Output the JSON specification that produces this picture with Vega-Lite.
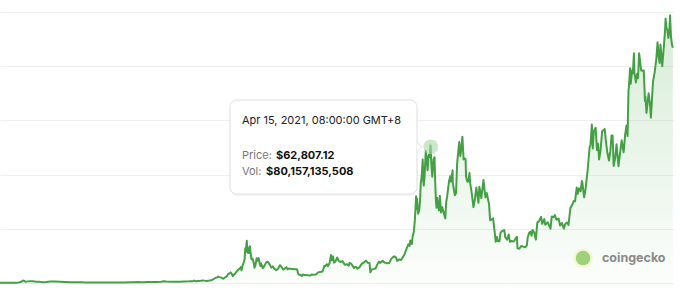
{
  "$schema": "https://vega.github.io/schema/vega-lite/v6.json",
  "width": 673,
  "height": 271,
  "autosize": {"type": "none"},
  "padding": {"left": 0, "top": 12, "right": 7, "bottom": 11},
  "background": "#ffffff",
  "config": {"view": {"stroke": null}},
  "datasets": {
    "btc": [
      {"d":"2013-07-01","p":88},{"d":"2013-07-15","p":98},{"d":"2013-08-01","p":105},{"d":"2013-08-15","p":110},{"d":"2013-09-01","p":140},{"d":"2013-09-15","p":130},{"d":"2013-10-01","p":125},{"d":"2013-10-15","p":150},{"d":"2013-11-01","p":205},{"d":"2013-11-15","p":420},{"d":"2013-11-30","p":1120},{"d":"2013-12-05","p":1050},{"d":"2013-12-18","p":520},{"d":"2013-12-31","p":750},
      {"d":"2014-01-15","p":840},{"d":"2014-02-01","p":830},{"d":"2014-02-25","p":530},{"d":"2014-03-15","p":630},{"d":"2014-04-10","p":360},{"d":"2014-05-01","p":450},{"d":"2014-06-01","p":650},{"d":"2014-07-01","p":640},{"d":"2014-08-01","p":590},{"d":"2014-09-01","p":480},{"d":"2014-10-05","p":320},{"d":"2014-11-01","p":330},{"d":"2014-12-01","p":380},{"d":"2014-12-31","p":320},
      {"d":"2015-01-14","p":175},{"d":"2015-02-01","p":225},{"d":"2015-03-01","p":255},{"d":"2015-04-01","p":245},{"d":"2015-05-01","p":235},{"d":"2015-06-01","p":225},{"d":"2015-07-01","p":260},{"d":"2015-08-01","p":280},{"d":"2015-09-01","p":230},{"d":"2015-10-01","p":238},{"d":"2015-11-04","p":400},{"d":"2015-12-01","p":375},{"d":"2015-12-31","p":430},
      {"d":"2016-01-15","p":390},{"d":"2016-02-01","p":370},{"d":"2016-03-01","p":435},{"d":"2016-04-01","p":415},{"d":"2016-05-01","p":450},{"d":"2016-06-01","p":535},{"d":"2016-06-17","p":760},{"d":"2016-07-01","p":675},{"d":"2016-08-01","p":610},{"d":"2016-09-01","p":570},{"d":"2016-10-01","p":615},{"d":"2016-11-01","p":730},{"d":"2016-12-01","p":750},{"d":"2016-12-20","p":800},{"d":"2016-12-31","p":960},
      {"d":"2017-01-04","p":1150},{"d":"2017-01-12","p":800},{"d":"2017-02-01","p":970},{"d":"2017-02-15","p":1010},{"d":"2017-03-01","p":1190},{"d":"2017-03-10","p":1100},{"d":"2017-03-25","p":930},{"d":"2017-04-15","p":1180},{"d":"2017-05-01","p":1420},{"d":"2017-05-12","p":1750},{"d":"2017-05-25","p":2400},{"d":"2017-06-03","p":2500},{"d":"2017-06-11","p":2950},{"d":"2017-06-20","p":2700},{"d":"2017-07-01","p":2480},{"d":"2017-07-16","p":1930},{"d":"2017-07-25","p":2600},{"d":"2017-08-01","p":2730},{"d":"2017-08-10","p":3400},{"d":"2017-08-17","p":4300},{"d":"2017-08-25","p":4350},{"d":"2017-09-01","p":4900},{"d":"2017-09-08","p":4300},{"d":"2017-09-15","p":3230},{"d":"2017-09-22","p":3700},{"d":"2017-10-01","p":4400},{"d":"2017-10-12","p":5400},{"d":"2017-10-20","p":6000},{"d":"2017-11-01","p":6700},{"d":"2017-11-08","p":7400},{"d":"2017-11-12","p":5900},{"d":"2017-11-20","p":8200},{"d":"2017-11-28","p":9800},{"d":"2017-12-03","p":11200},{"d":"2017-12-07","p":16000},{"d":"2017-12-10","p":14500},{"d":"2017-12-17","p":19500},{"d":"2017-12-22","p":14000},{"d":"2017-12-27","p":16000},{"d":"2017-12-31","p":13800},
      {"d":"2018-01-06","p":17000},{"d":"2018-01-10","p":14500},{"d":"2018-01-17","p":11000},{"d":"2018-01-24","p":11300},{"d":"2018-02-01","p":9200},{"d":"2018-02-06","p":7000},{"d":"2018-02-13","p":8600},{"d":"2018-02-20","p":11400},{"d":"2018-02-27","p":10300},{"d":"2018-03-05","p":11500},{"d":"2018-03-12","p":9100},{"d":"2018-03-18","p":7800},{"d":"2018-03-22","p":9000},{"d":"2018-04-01","p":6800},{"d":"2018-04-12","p":7900},{"d":"2018-04-25","p":9600},{"d":"2018-05-05","p":9800},{"d":"2018-05-15","p":8700},{"d":"2018-05-28","p":7100},{"d":"2018-06-08","p":7650},{"d":"2018-06-18","p":6500},{"d":"2018-06-29","p":5900},{"d":"2018-07-10","p":6400},{"d":"2018-07-24","p":8200},{"d":"2018-08-01","p":7600},{"d":"2018-08-14","p":6200},{"d":"2018-08-25","p":6700},{"d":"2018-09-05","p":7300},{"d":"2018-09-12","p":6300},{"d":"2018-09-21","p":6700},{"d":"2018-10-01","p":6600},{"d":"2018-10-15","p":6500},{"d":"2018-11-01","p":6350},{"d":"2018-11-14","p":6300},{"d":"2018-11-20","p":4600},{"d":"2018-11-25","p":3900},{"d":"2018-12-05","p":3800},{"d":"2018-12-15","p":3200},{"d":"2018-12-22","p":3950},{"d":"2018-12-31","p":3700},
      {"d":"2019-01-10","p":3650},{"d":"2019-01-25","p":3550},{"d":"2019-02-07","p":3400},{"d":"2019-02-20","p":3950},{"d":"2019-03-05","p":3750},{"d":"2019-03-20","p":4050},{"d":"2019-04-02","p":4900},{"d":"2019-04-15","p":5100},{"d":"2019-05-01","p":5300},{"d":"2019-05-14","p":8000},{"d":"2019-05-20","p":7800},{"d":"2019-05-30","p":8650},{"d":"2019-06-06","p":7800},{"d":"2019-06-16","p":9000},{"d":"2019-06-26","p":12900},{"d":"2019-07-02","p":10500},{"d":"2019-07-10","p":12300},{"d":"2019-07-16","p":9400},{"d":"2019-07-25","p":9900},{"d":"2019-08-06","p":11800},{"d":"2019-08-15","p":10300},{"d":"2019-08-28","p":9700},{"d":"2019-09-10","p":10100},{"d":"2019-09-25","p":8400},{"d":"2019-10-10","p":8600},{"d":"2019-10-22","p":8000},{"d":"2019-10-26","p":9300},{"d":"2019-11-08","p":8800},{"d":"2019-11-25","p":6900},{"d":"2019-12-05","p":7500},{"d":"2019-12-17","p":6600},{"d":"2019-12-31","p":7200},
      {"d":"2020-01-15","p":8800},{"d":"2020-01-28","p":9400},{"d":"2020-02-12","p":10300},{"d":"2020-02-25","p":9300},{"d":"2020-03-07","p":9100},{"d":"2020-03-12","p":4900},{"d":"2020-03-20","p":6200},{"d":"2020-04-01","p":6400},{"d":"2020-04-15","p":6700},{"d":"2020-04-29","p":8800},{"d":"2020-05-08","p":9900},{"d":"2020-05-15","p":9300},{"d":"2020-06-01","p":10200},{"d":"2020-06-15","p":9400},{"d":"2020-07-01","p":9100},{"d":"2020-07-15","p":9200},{"d":"2020-07-27","p":11000},{"d":"2020-08-05","p":11700},{"d":"2020-08-17","p":12300},{"d":"2020-08-30","p":11700},{"d":"2020-09-05","p":10200},{"d":"2020-09-20","p":10900},{"d":"2020-10-01","p":10600},{"d":"2020-10-21","p":12800},{"d":"2020-11-05","p":15600},{"d":"2020-11-18","p":17800},{"d":"2020-11-26","p":17100},{"d":"2020-12-01","p":19600},{"d":"2020-12-11","p":18000},{"d":"2020-12-16","p":21300},{"d":"2020-12-24","p":23500},{"d":"2020-12-31","p":29000},
      {"d":"2021-01-03","p":32500},{"d":"2021-01-08","p":40000},{"d":"2021-01-12","p":34000},{"d":"2021-01-14","p":39000},{"d":"2021-01-22","p":32000},{"d":"2021-01-28","p":33300},{"d":"2021-02-03","p":37500},{"d":"2021-02-08","p":46000},{"d":"2021-02-14","p":48900},{"d":"2021-02-21","p":57000},{"d":"2021-02-25","p":47000},{"d":"2021-02-28","p":45000},{"d":"2021-03-05","p":48800},{"d":"2021-03-13","p":61000},{"d":"2021-03-18","p":58000},{"d":"2021-03-25","p":52000},{"d":"2021-04-01","p":59000},{"d":"2021-04-08","p":58000},{"d":"2021-04-13","p":63500},{"d":"2021-04-15","p":62807},{"d":"2021-04-18","p":56000},{"d":"2021-04-25","p":49000},{"d":"2021-05-03","p":57000},{"d":"2021-05-10","p":58000},{"d":"2021-05-13","p":49500},{"d":"2021-05-19","p":38000},{"d":"2021-05-23","p":34700},{"d":"2021-05-27","p":39300},{"d":"2021-06-01","p":36500},{"d":"2021-06-08","p":33500},{"d":"2021-06-14","p":40200},{"d":"2021-06-22","p":32500},{"d":"2021-06-30","p":35000},{"d":"2021-07-08","p":32800},{"d":"2021-07-20","p":29800},{"d":"2021-07-26","p":37200},{"d":"2021-08-01","p":39800},{"d":"2021-08-14","p":47000},{"d":"2021-08-22","p":49300},{"d":"2021-08-27","p":46800},{"d":"2021-09-06","p":52000},{"d":"2021-09-08","p":46000},{"d":"2021-09-21","p":40500},{"d":"2021-09-29","p":41500},{"d":"2021-10-06","p":55000},{"d":"2021-10-15","p":61500},{"d":"2021-10-20","p":65000},{"d":"2021-10-27","p":58500},{"d":"2021-11-01","p":61000},{"d":"2021-11-10","p":67500},{"d":"2021-11-18","p":57000},{"d":"2021-11-24","p":57500},{"d":"2021-12-01","p":57200},{"d":"2021-12-04","p":49000},{"d":"2021-12-13","p":46700},{"d":"2021-12-20","p":46900},{"d":"2021-12-27","p":50700},{"d":"2021-12-31","p":46300},
      {"d":"2022-01-10","p":41800},{"d":"2022-01-22","p":35000},{"d":"2022-01-30","p":38000},{"d":"2022-02-10","p":44000},{"d":"2022-02-24","p":37000},{"d":"2022-03-02","p":44400},{"d":"2022-03-15","p":39200},{"d":"2022-03-29","p":47500},{"d":"2022-04-11","p":39500},{"d":"2022-04-20","p":41500},{"d":"2022-04-30","p":38000},{"d":"2022-05-05","p":36500},{"d":"2022-05-12","p":29000},{"d":"2022-05-20","p":29200},{"d":"2022-06-01","p":29800},{"d":"2022-06-13","p":22400},{"d":"2022-06-18","p":19000},{"d":"2022-06-26","p":21200},{"d":"2022-07-01","p":19300},{"d":"2022-07-13","p":19300},{"d":"2022-07-20","p":23200},{"d":"2022-07-30","p":24000},{"d":"2022-08-14","p":24400},{"d":"2022-08-20","p":21100},{"d":"2022-09-01","p":20000},{"d":"2022-09-12","p":22400},{"d":"2022-09-20","p":19000},{"d":"2022-10-01","p":19400},{"d":"2022-10-15","p":19100},{"d":"2022-10-29","p":20700},{"d":"2022-11-05","p":21300},{"d":"2022-11-09","p":16000},{"d":"2022-11-21","p":15800},{"d":"2022-12-05","p":17100},{"d":"2022-12-18","p":16700},{"d":"2022-12-31","p":16550},
      {"d":"2023-01-10","p":17400},{"d":"2023-01-15","p":21000},{"d":"2023-01-25","p":23100},{"d":"2023-02-01","p":23700},{"d":"2023-02-10","p":21800},{"d":"2023-02-16","p":24500},{"d":"2023-02-28","p":23200},{"d":"2023-03-10","p":20000},{"d":"2023-03-20","p":28000},{"d":"2023-03-30","p":28400},{"d":"2023-04-14","p":30500},{"d":"2023-04-21","p":27300},{"d":"2023-05-05","p":29500},{"d":"2023-05-11","p":26900},{"d":"2023-05-28","p":28000},{"d":"2023-06-10","p":25800},{"d":"2023-06-15","p":25100},{"d":"2023-06-23","p":30700},{"d":"2023-07-05","p":30300},{"d":"2023-07-14","p":31300},{"d":"2023-07-24","p":29200},{"d":"2023-08-08","p":29700},{"d":"2023-08-17","p":26500},{"d":"2023-08-29","p":27700},{"d":"2023-09-11","p":25100},{"d":"2023-09-20","p":27200},{"d":"2023-10-01","p":27900},{"d":"2023-10-12","p":26800},{"d":"2023-10-24","p":34500},{"d":"2023-11-09","p":36700},{"d":"2023-11-15","p":37800},{"d":"2023-11-24","p":37700},{"d":"2023-12-05","p":44000},{"d":"2023-12-12","p":41200},{"d":"2023-12-20","p":43700},{"d":"2023-12-31","p":42300},
      {"d":"2024-01-08","p":47000},{"d":"2024-01-11","p":46500},{"d":"2024-01-23","p":39500},{"d":"2024-02-01","p":43100},{"d":"2024-02-15","p":52000},{"d":"2024-02-28","p":62500},{"d":"2024-03-05","p":63800},{"d":"2024-03-14","p":73100},{"d":"2024-03-20","p":62000},{"d":"2024-03-27","p":69900},{"d":"2024-04-08","p":71600},{"d":"2024-04-17","p":61300},{"d":"2024-04-24","p":64200},{"d":"2024-05-01","p":57000},{"d":"2024-05-10","p":60800},{"d":"2024-05-21","p":70000},{"d":"2024-06-07","p":71000},{"d":"2024-06-14","p":66000},{"d":"2024-06-24","p":60300},{"d":"2024-07-05","p":56500},{"d":"2024-07-14","p":60800},{"d":"2024-07-22","p":68000},{"d":"2024-07-29","p":68000},{"d":"2024-08-05","p":54000},{"d":"2024-08-15","p":57600},{"d":"2024-08-24","p":64000},{"d":"2024-09-06","p":53900},{"d":"2024-09-17","p":60300},{"d":"2024-09-27","p":65800},{"d":"2024-10-10","p":60300},{"d":"2024-10-20","p":68400},{"d":"2024-10-29","p":72700},{"d":"2024-11-05","p":67800},{"d":"2024-11-11","p":88700},{"d":"2024-11-13","p":90000},{"d":"2024-11-22","p":99000},{"d":"2024-11-26","p":91900},{"d":"2024-12-05","p":98000},{"d":"2024-12-10","p":96700},{"d":"2024-12-17","p":106000},{"d":"2024-12-20","p":97000},{"d":"2024-12-30","p":92500},
      {"d":"2025-01-07","p":96500},{"d":"2025-01-13","p":94500},{"d":"2025-01-20","p":106000},{"d":"2025-01-27","p":102000},{"d":"2025-02-03","p":98000},{"d":"2025-02-12","p":97900},{"d":"2025-02-20","p":98000},{"d":"2025-02-28","p":84000},{"d":"2025-03-03","p":86000},{"d":"2025-03-10","p":78500},{"d":"2025-03-24","p":87500},{"d":"2025-04-02","p":82500},{"d":"2025-04-08","p":76300},{"d":"2025-04-15","p":84500},{"d":"2025-04-22","p":93000},{"d":"2025-05-02","p":96800},{"d":"2025-05-08","p":100000},{"d":"2025-05-14","p":103500},{"d":"2025-05-22","p":111000},{"d":"2025-05-30","p":104000},{"d":"2025-06-05","p":101500},{"d":"2025-06-10","p":110000},{"d":"2025-06-22","p":100000},{"d":"2025-07-03","p":109500},{"d":"2025-07-10","p":116000},{"d":"2025-07-14","p":122000},{"d":"2025-07-20","p":117500},{"d":"2025-07-25","p":117000},{"d":"2025-08-02","p":113000},{"d":"2025-08-08","p":117000},{"d":"2025-08-13","p":123500},{"d":"2025-08-14","p":121000},{"d":"2025-08-19","p":113500},{"d":"2025-08-25","p":110000},{"d":"2025-08-31","p":108500}
    ],
    "shadow": [{"d1":"2017-08-24","d2":"2021-01-18","p1":40000,"p2":84000}],
    "box": [{"d1":"2017-08-28","d2":"2021-01-14","p1":41000,"p2":84400}],
    "focus": [{"d":"2021-04-15","p":62807}],
    "arrow": [{"d":"2021-01-14","p":62807}],
    "tip": [
      {"k":"title","d":"2017-11-15","p":74700,"t":"Apr 15, 2021, 08:00:00 GMT+8"},
      {"k":"label","d":"2017-11-15","p":58600,"t":"Price:"},
      {"k":"label","d":"2017-11-15","p":51200,"t":"Vol:"},
      {"k":"value","d":"2018-06-28","p":58600,"t":"$62,807.12"},
      {"k":"value","d":"2018-04-23","p":51200,"t":"$80,157,135,508"}
    ],
    "brand": [{"d":"2024-05-20","p":11500,"t":"coingecko"}],
    "logo": [{"d":"2024-01-16","p":11500}]
  },
  "encoding": {
    "x": {"field": "d", "type": "temporal", "axis": null,
      "scale": {"domain": [{"year":2013,"month":7,"date":1,"utc":true},{"year":2025,"month":9,"date":1,"utc":true}]}},
    "y": {"field": "p", "type": "quantitative",
      "scale": {"domain": [0, 125000], "nice": false},
      "axis": {"values": [0,25000,50000,75000,100000,125000], "labels": false, "ticks": false, "domain": false, "title": null, "gridColor": "#eeeeee", "gridWidth": 1}}
  },
  "layer": [
    {
      "data": {"name": "btc"},
      "mark": {"type": "area", "clip": true,
        "color": {"x1": 0, "y1": 0, "x2": 0, "y2": 1, "gradient": "linear",
          "stops": [{"offset": 0, "color": "rgba(76,170,76,0.22)"}, {"offset": 1, "color": "rgba(76,170,76,0.02)"}]}}
    },
    {
      "data": {"name": "btc"},
      "mark": {"type": "line", "color": "#44a044", "strokeWidth": 2, "strokeJoin": "round"}
    },
    {
      "data": {"name": "focus"},
      "mark": {"type": "point", "filled": true, "size": 220, "color": "#a8d8a8", "opacity": 0.6}
    },
    {
      "data": {"name": "shadow"},
      "mark": {"type": "rect", "fill": "#000000", "opacity": 0.04, "cornerRadius": 9},
      "encoding": {
        "x": {"field": "d1", "type": "temporal"},
        "x2": {"field": "d2"},
        "y": {"field": "p1", "type": "quantitative"},
        "y2": {"field": "p2"}
      }
    },
    {
      "data": {"name": "box"},
      "mark": {"type": "rect", "fill": "#ffffff", "stroke": "#e0e0e0", "strokeWidth": 1, "cornerRadius": 7},
      "encoding": {
        "x": {"field": "d1", "type": "temporal"},
        "x2": {"field": "d2"},
        "y": {"field": "p1", "type": "quantitative"},
        "y2": {"field": "p2"}
      }
    },
    {
      "data": {"name": "arrow"},
      "mark": {"type": "point", "shape": "M0,-1L1,0L0,1", "filled": true, "fill": "#ffffff", "stroke": "#e0e0e0", "strokeWidth": 1, "size": 90, "opacity": 1}
    },
    {
      "data": {"name": "tip"},
      "transform": [{"filter": "datum.k == 'title'"}],
      "mark": {"type": "text", "align": "left", "baseline": "middle", "font": "Inter", "fontSize": 11, "color": "#222222"},
      "encoding": {"text": {"field": "t"}}
    },
    {
      "data": {"name": "tip"},
      "transform": [{"filter": "datum.k == 'label'"}],
      "mark": {"type": "text", "align": "left", "baseline": "middle", "font": "Inter", "fontSize": 11, "color": "#777777"},
      "encoding": {"text": {"field": "t"}}
    },
    {
      "data": {"name": "tip"},
      "transform": [{"filter": "datum.k == 'value'"}],
      "mark": {"type": "text", "align": "left", "baseline": "middle", "font": "Inter", "fontSize": 11, "fontWeight": "bold", "color": "#111111"},
      "encoding": {"text": {"field": "t"}}
    },
    {
      "data": {"name": "logo"},
      "mark": {"type": "point", "filled": true, "size": 380, "color": "#f3f8d2", "opacity": 1}
    },
    {
      "data": {"name": "logo"},
      "mark": {"type": "point", "filled": true, "size": 210, "color": "#9fd07a", "opacity": 1}
    },
    {
      "data": {"name": "brand"},
      "mark": {"type": "text", "align": "left", "baseline": "middle", "font": "Inter", "fontSize": 12.5, "fontWeight": "bold", "color": "#8a8a8a"},
      "encoding": {"text": {"field": "t"}}
    }
  ]
}
